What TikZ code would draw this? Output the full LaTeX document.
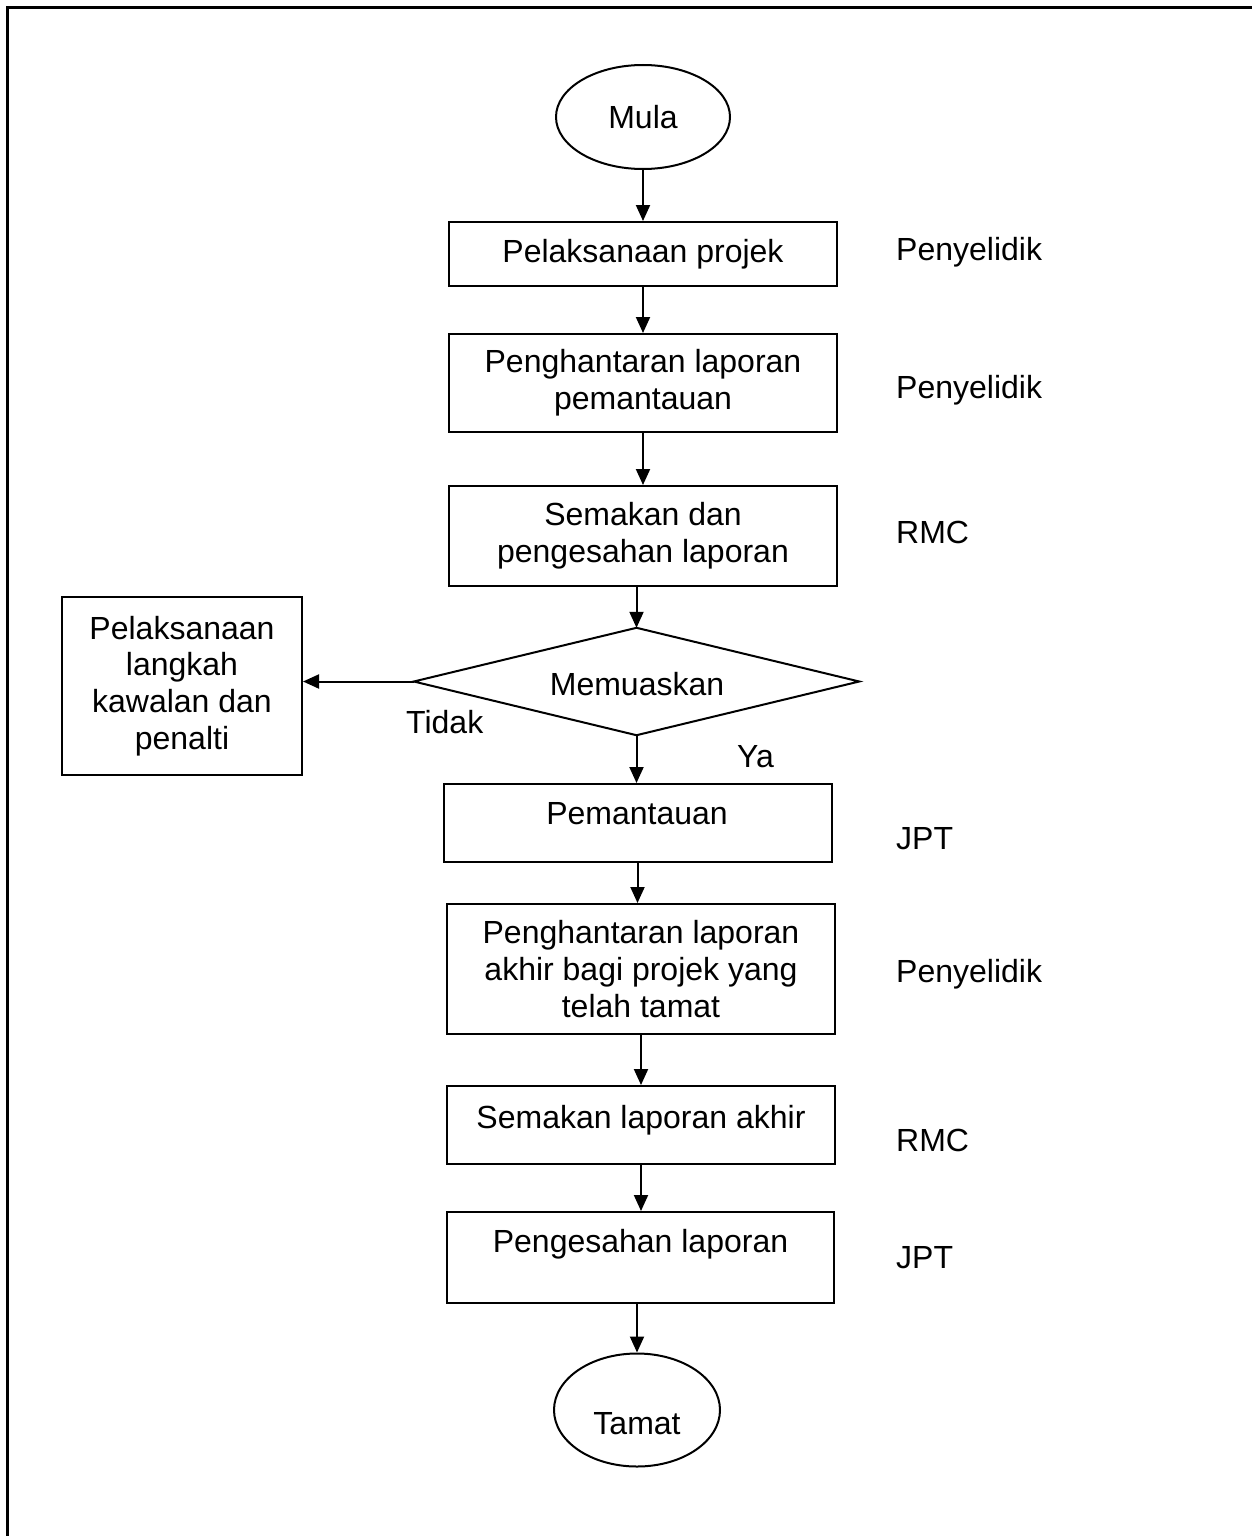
\documentclass[tikz,border=0pt]{standalone}
\usepackage{fontspec}
\setmainfont{Liberation Sans}
\usetikzlibrary{arrows.meta,shapes.geometric}
\begin{document}
\begin{tikzpicture}[x=1pt,y=-1pt,
  every node/.style={font=\fontsize{32}{36.7}\selectfont, inner sep=0pt},
  box/.style={draw, line width=2pt, rectangle, align=center},
  term/.style={draw, line width=2pt, ellipse},
  lbl/.style={anchor=base west},
  arr/.style={line width=2pt, -{Triangle[length=16pt,width=14pt]}},
  frame/.style={line width=3pt}]
\useasboundingbox (0,0) rectangle (1252,1536);
\draw[frame] (7.2,1540) -- (7.2,7.2) -- (1256,7.2);

\node[term, minimum width=174pt, minimum height=104pt] (mula) at (643,117) {Mula};
\node[box, minimum width=388pt, minimum height=64pt] (b1) at (643,254) {Pelaksanaan projek};
\node[box, minimum width=388pt, minimum height=98pt] (b2) at (643,383) {Penghantaran laporan\\pemantauan};
\node[box, minimum width=388pt, minimum height=100pt] (b3) at (643,536) {Semakan dan\\pengesahan laporan};
\node[minimum width=445pt, minimum height=107pt] (dia) at (636.5,681.5) {};
\draw[line width=2pt] (dia.north) -- (dia.east) -- (dia.south) -- (dia.west) -- cycle;
\node (memu) at (637,684) {Memuaskan};
\node[box, minimum width=240pt, minimum height=178pt] (lb) at (182,686) {Pelaksanaan\\langkah\\kawalan dan\\penalti};
\node[box, minimum width=388pt, minimum height=78pt] (b5) at (637.5,823) {};
\node (t5) at (637,814) {Pemantauan};
\node[box, minimum width=388pt, minimum height=130pt] (b6) at (641,969) {Penghantaran laporan\\akhir bagi projek yang\\telah tamat};
\node[box, minimum width=388pt, minimum height=78pt] (b7) at (641,1125) {};
\node (t7) at (641,1120) {Semakan laporan akhir};
\node[box, minimum width=387pt, minimum height=91pt] (b8) at (640.5,1257.5) {};
\node (t8) at (640.5,1244) {Pengesahan laporan};
\node[term, minimum width=166pt, minimum height=113pt] (tamat) at (637,1410) {};
\node (t9) at (637,1424) {Tamat};

\draw[arr] (mula) -- (b1);
\draw[arr] (b1) -- (b2);
\draw[arr] (b2) -- (b3);
\draw[arr] (dia.north |- b3.south) -- (dia.north);
\draw[arr] (dia.west) -- (dia.west -| lb.east);
\draw[arr] (dia.south) -- (dia.south |- b5.north);
\draw[arr] (b5.south) -- (b5.south |- b6.north);
\draw[arr] (b6.south) -- (b6.south |- b7.north);
\draw[arr] (b7.south) -- (b7.south |- b8.north);
\draw[arr] (tamat.north |- b8.south) -- (tamat.north);

\node[lbl] (p1) at (896,260) {Penyelidik};
\node[lbl] (p2) at (896,398) {Penyelidik};
\node[lbl] (r1) at (896,543) {RMC};
\node[lbl] (j1) at (896,849) {JPT};
\node[lbl] (p3) at (896,982) {Penyelidik};
\node[lbl] (r2) at (896,1151) {RMC};
\node[lbl] (j2) at (896,1268) {JPT};
\node[lbl] (tidak) at (406,733) {Tidak};
\node[lbl] (ya) at (737,767) {Ya};
\end{tikzpicture}
\end{document}
